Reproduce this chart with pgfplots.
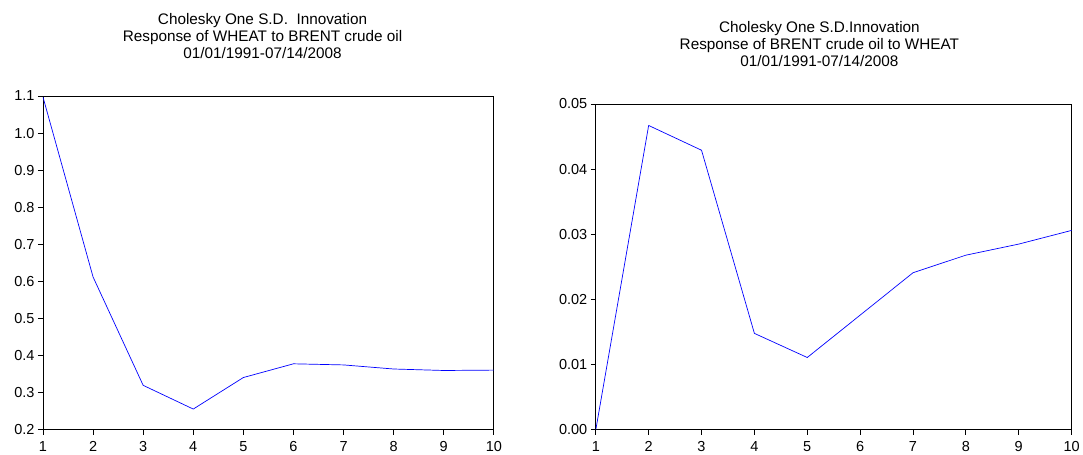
\documentclass[border=0pt]{standalone}
\usepackage{fontspec}
\setmainfont{Liberation Sans}
\usepackage{pgfplots}
\pgfplotsset{compat=1.18}

\pgfplotsset{
  irf/.style={
    scale only axis,
    xmin=1, xmax=10,
    xtick={1,...,10},
    tick align=outside,
    xtick pos=bottom, ytick pos=left,
    major tick length=5pt,
    axis line style={line width=0.9pt},
    every tick/.style={black, line width=0.8pt},
    tick label style={font=\fontsize{14.5}{16}\selectfont},
    xticklabel style={yshift=-3pt},
    /pgf/number format/assume math mode=true,
    title style={align=center, font=\fontsize{15.3}{17}\selectfont, anchor=south},
    scaled y ticks=false,
    yticklabel style={/pgf/number format/fixed, /pgf/number format/fixed zerofill},
  }
}

\begin{document}
\begin{tikzpicture}
\path (0pt,0pt) rectangle (1083pt,455pt);

\begin{axis}[irf,
  at={(43pt,25pt)}, anchor=south west,
  width=451pt, height=334pt,
  ymin=0.2, ymax=1.1,
  ytick={0.2,0.3,...,1.1},
  yticklabel style={/pgf/number format/precision=1},
  title={Cholesky One S.D.\ \ Innovation\\Response of WHEAT to BRENT crude oil\\01/01/1991-07/14/2008},
  title style={at={(0.487,1)}, yshift=28pt},
]
\addplot[blue, line width=0.7pt] coordinates {
  (1,1.097) (2,0.612) (3,0.320) (4,0.256) (5,0.341)
  (6,0.378) (7,0.375) (8,0.364) (9,0.360) (10,0.361)
};
\end{axis}

\begin{axis}[irf,
  at={(596pt,25pt)}, anchor=south west,
  width=476pt, height=326pt,
  ymin=0, ymax=0.05,
  ytick={0,0.01,...,0.05},
  yticklabel style={/pgf/number format/precision=2},
  title={Cholesky One S.D.Innovation\\Response of BRENT crude oil to WHEAT\\01/01/1991-07/14/2008},
  title style={at={(0.47,1)}, yshift=28pt},
]
\addplot[blue, line width=0.7pt] coordinates {
  (1,0.0) (2,0.0467) (3,0.0429) (4,0.0148) (5,0.0111)
  (6,0.0176) (7,0.0241) (8,0.0268) (9,0.0285) (10,0.0306)
};
\end{axis}
\end{tikzpicture}
\end{document}
